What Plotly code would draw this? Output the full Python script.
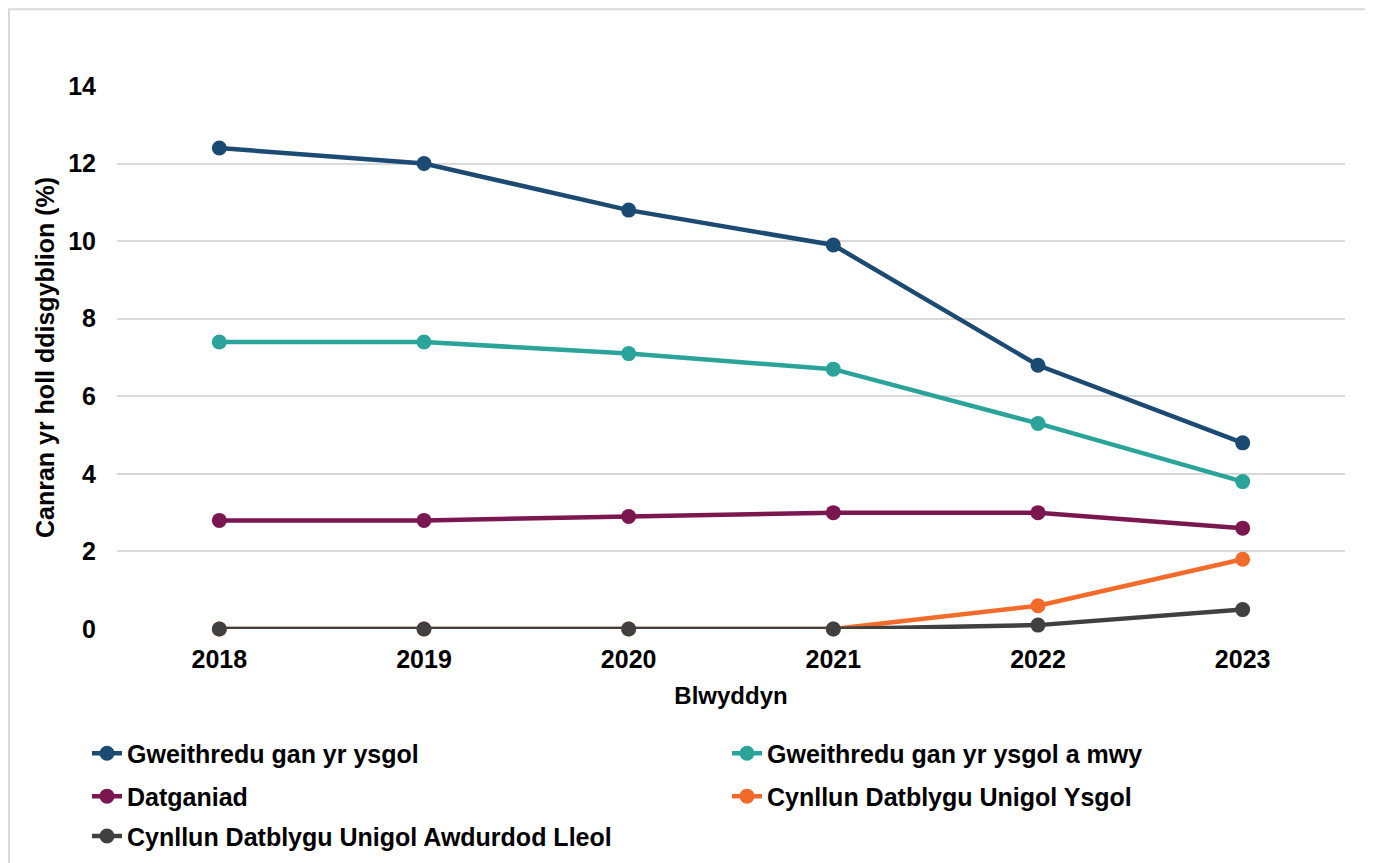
import plotly.graph_objects as go

years = ["2018", "2019", "2020", "2021", "2022", "2023"]
gweithredu_ysgol = [12.4, 12.0, 10.8, 9.9, 6.8, 4.8]
gweithredu_ysgol_a_mwy = [7.4, 7.4, 7.1, 6.7, 5.3, 3.8]
datganiad = [2.8, 2.8, 2.9, 3.0, 3.0, 2.6]
cdu_ysgol = [0, 0, 0, 0, 0.6, 1.8]
cdu_awdurdod = [0, 0, 0, 0, 0.1, 0.5]

series_names = [
    "Gweithredu gan yr ysgol",
    "Gweithredu gan yr ysgol a mwy",
    "Datganiad",
    "Cynllun Datblygu Unigol Ysgol",
    "Cynllun Datblygu Unigol Awdurdod Lleol",
]
series_values = [gweithredu_ysgol, gweithredu_ysgol_a_mwy, datganiad, cdu_ysgol, cdu_awdurdod]
colors = ["#1B4A72", "#2AA39A", "#7B1750", "#F26B2B", "#404040"]
legend_ids = ["legend", "legend2", "legend3", "legend4", "legend5"]

OFF = 8  # page body margin
W, H = 1373 - OFF, 863
L, R, T, B = 117, 1345, 86, 631  # target plot area in screen coords
pw, ph = R - L, B - T

def px(x):
    return (x - L) / pw

def py(y):
    return (B - y) / ph

FONT = "Liberation Sans, Arial, sans-serif"

fig = go.Figure()
for name, vals, col, lg in zip(series_names, series_values, colors, legend_ids):
    fig.add_trace(go.Scatter(
        x=years, y=vals, name=name, mode="lines+markers",
        line=dict(color=col, width=4.5),
        marker=dict(color=col, size=15),
        legend=lg, cliponaxis=False,
    ))

leg_pos = [(87, 756), (727, 756), (87, 799), (727, 799), (87, 839)]
legend_common = dict(
    font=dict(family=FONT, size=25, color="#000000", weight="bold"),
    bgcolor="rgba(0,0,0,0)", xanchor="left", yanchor="middle",
    orientation="v", borderwidth=0,
)
layout_legends = {}
for lg, (lx, ly) in zip(legend_ids, leg_pos):
    layout_legends[lg] = dict(x=px(lx), y=py(ly), **legend_common)

fig.update_layout(
    width=W, height=H,
    margin=dict(l=L - OFF, r=W - (R - OFF), t=T - OFF, b=H - (B - OFF)),
    paper_bgcolor="white", plot_bgcolor="white",
    font=dict(family=FONT, color="#000000"),
    showlegend=True,
    xaxis=dict(
        type="category", range=[-0.5, 5.5],
        showgrid=False, zeroline=False, showline=False,
        tickfont=dict(family=FONT, size=25, color="#000000", weight="bold"),
        ticks="", ticklabelstandoff=13,
        title=dict(text="Blwyddyn", standoff=15,
                   font=dict(family=FONT, size=24, color="#000000", weight="bold")),
    ),
    yaxis=dict(
        range=[0, 14], dtick=2, tick0=0,
        showgrid=True, gridcolor="#D9D9D9", gridwidth=1.5,
        zeroline=False, showline=False,
        tickfont=dict(family=FONT, size=25, color="#000000", weight="bold"),
        ticks="", ticklabelstandoff=20,
        title=dict(text="Canran yr holl ddisgyblion (%)", standoff=6,
                   font=dict(family=FONT, size=25, color="#000000", weight="bold")),
    ),
    shapes=[dict(
        type="rect", xref="paper", yref="paper",
        x0=px(9), x1=px(1369), y0=py(900), y1=py(9),
        line=dict(color="#D9D9D9", width=2), fillcolor="rgba(0,0,0,0)",
        layer="below",
    )],
    **layout_legends,
)

fig.write_html("out.html")
